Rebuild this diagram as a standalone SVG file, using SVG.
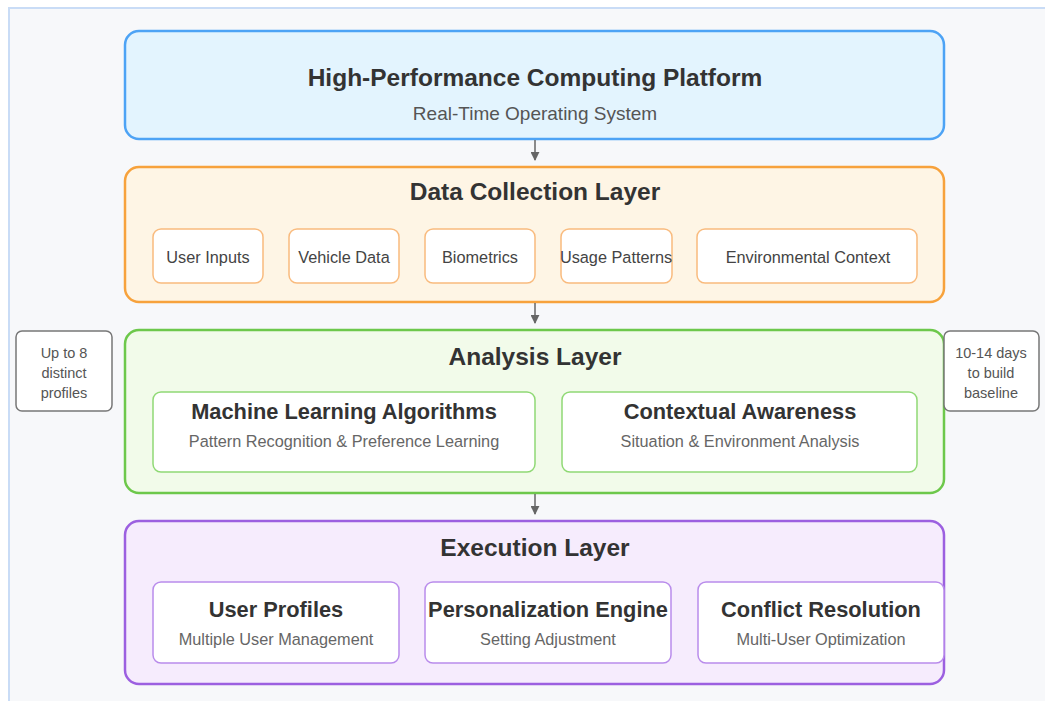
<svg xmlns="http://www.w3.org/2000/svg" width="1045" height="701" viewBox="0 0 1045 701">
<style>
text{font-family:"Liberation Sans",Arial,sans-serif;text-anchor:middle}
.layer{stroke-width:2.5}
.t1{font-size:24.5px;font-weight:bold;fill:#333}
.t2{font-size:21.8px;font-weight:bold;fill:#333}
.sub{font-size:19px;fill:#555}
.sub2{font-size:16.3px;fill:#666}
.chip{font-size:16.3px;fill:#444}
.note{font-size:14.5px;fill:#555}
.conn{stroke:#666;stroke-width:1.5;fill:none}
</style>
<defs>
<marker id="ah" viewBox="0 0 10 10" refX="9" refY="5" markerWidth="6" markerHeight="6" markerUnits="strokeWidth" orient="auto">
<path d="M0,0 L10,5 L0,10 z" fill="#666"/>
</marker>
</defs>
<rect x="9" y="8" width="1050" height="710" fill="#f7f8fa" stroke="#c9dcf6" stroke-width="2"/>

<g id="platform">
<rect class="layer" x="125" y="31" width="819" height="108" rx="14" fill="#e3f4fe" stroke="#4da3f5"/>
<text class="t1" x="535" y="86">High-Performance Computing Platform</text>
<text class="sub" x="535" y="120">Real-Time Operating System</text>
</g>

<g id="data-collection">
<rect class="layer" x="125" y="167" width="819" height="135" rx="14" fill="#fef5e5" stroke="#f7a23c"/>
<text class="t1" x="535" y="200">Data Collection Layer</text>
<g id="user-inputs"><rect x="153" y="229" width="110" height="54" rx="8" fill="#fff" stroke="#f9bb7e" stroke-width="1.5"/><text class="chip" x="208" y="263">User Inputs</text></g>
<g id="vehicle-data"><rect x="289" y="229" width="110" height="54" rx="8" fill="#fff" stroke="#f9bb7e" stroke-width="1.5"/><text class="chip" x="344" y="263">Vehicle Data</text></g>
<g id="biometrics"><rect x="425" y="229" width="110" height="54" rx="8" fill="#fff" stroke="#f9bb7e" stroke-width="1.5"/><text class="chip" x="480" y="263">Biometrics</text></g>
<g id="usage-patterns"><rect x="561" y="229" width="111" height="54" rx="8" fill="#fff" stroke="#f9bb7e" stroke-width="1.5"/><text class="chip" x="616" y="263">Usage Patterns</text></g>
<g id="environmental-context"><rect x="697" y="229" width="220" height="54" rx="8" fill="#fff" stroke="#f9bb7e" stroke-width="1.5"/><text class="chip" x="808" y="263">Environmental Context</text></g>
</g>

<g id="analysis">
<rect class="layer" x="125" y="330" width="819" height="163" rx="14" fill="#f2fbea" stroke="#6dc84b"/>
<text class="t1" x="535" y="365">Analysis Layer</text>
<g id="ml"><rect x="153" y="392" width="382" height="80" rx="8" fill="#fff" stroke="#90d975" stroke-width="1.5"/>
<text class="t2" x="344" y="419">Machine Learning Algorithms</text>
<text class="sub2" x="344" y="447">Pattern Recognition &amp; Preference Learning</text></g>
<g id="contextual"><rect x="562" y="392" width="355" height="80" rx="8" fill="#fff" stroke="#90d975" stroke-width="1.5"/>
<text class="t2" x="740" y="419">Contextual Awareness</text>
<text class="sub2" x="740" y="447">Situation &amp; Environment Analysis</text></g>
</g>

<g id="note-profiles">
<rect x="16" y="331" width="96" height="80" rx="6" fill="#fff" stroke="#777" stroke-width="1.5"/>
<text class="note" x="64" y="358">Up to 8</text>
<text class="note" x="64" y="378">distinct</text>
<text class="note" x="64" y="398">profiles</text>
</g>
<g id="note-baseline">
<rect x="944" y="331" width="95" height="80" rx="6" fill="#fff" stroke="#777" stroke-width="1.5"/>
<text class="note" x="991" y="358">10-14 days</text>
<text class="note" x="991" y="378">to build</text>
<text class="note" x="991" y="398">baseline</text>
</g>

<g id="execution">
<rect class="layer" x="125" y="521" width="819" height="163" rx="14" fill="#f6ecfd" stroke="#9c60e0"/>
<text class="t1" x="535" y="556">Execution Layer</text>
<g id="user-profiles"><rect x="153" y="582" width="246" height="81" rx="8" fill="#fff" stroke="#b98ceb" stroke-width="1.5"/>
<text class="t2" x="276" y="617">User Profiles</text>
<text class="sub2" x="276" y="645">Multiple User Management</text></g>
<g id="personalization"><rect x="425" y="582" width="246" height="81" rx="8" fill="#fff" stroke="#b98ceb" stroke-width="1.5"/>
<text class="t2" x="548" y="617">Personalization Engine</text>
<text class="sub2" x="548" y="645">Setting Adjustment</text></g>
<g id="conflict"><rect x="698" y="582" width="246" height="81" rx="8" fill="#fff" stroke="#b98ceb" stroke-width="1.5"/>
<text class="t2" x="821" y="617">Conflict Resolution</text>
<text class="sub2" x="821" y="645">Multi-User Optimization</text></g>
</g>

<g id="connectors">
<line class="conn" x1="535" y1="140" x2="535" y2="160" marker-end="url(#ah)"/>
<line class="conn" x1="535" y1="303" x2="535" y2="323" marker-end="url(#ah)"/>
<line class="conn" x1="535" y1="494" x2="535" y2="514" marker-end="url(#ah)"/>
</g>
</svg>
